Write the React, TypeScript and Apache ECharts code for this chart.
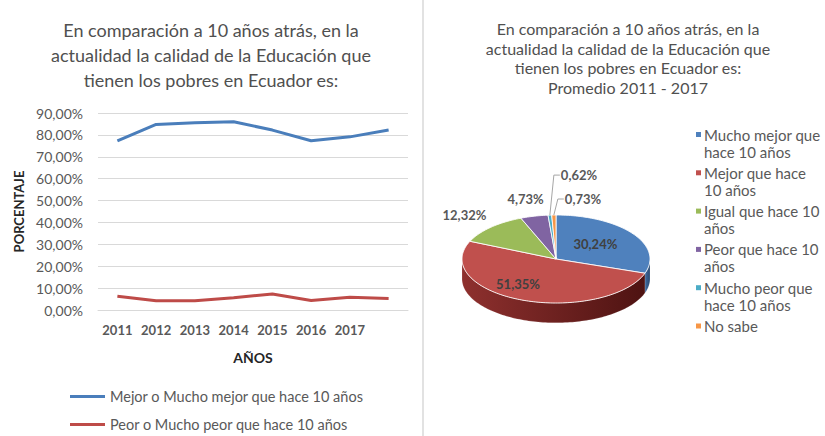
import React, { useEffect, useRef } from 'react';
import * as echarts from 'echarts';

const years = ['2011', '2012', '2013', '2014', '2015', '2016', '2017', ''];
const mejorValues = [77.3, 84.8, 85.5, 86.0, 82.2, 77.3, 79.1, 82.2];
const peorValues = [6.3, 4.2, 4.2, 5.6, 7.3, 4.3, 5.8, 5.3];
const lineNames = ['Mejor o Mucho mejor que hace 10 años', 'Peor o Mucho peor que hace 10 años'];
const lineColors = ['#4a7ebb', '#be4b48'];

const pieCategories = [
  'Mucho mejor que hace 10 años',
  'Mejor que hace 10 años',
  'Igual que hace 10 años',
  'Peor que hace 10 años',
  'Mucho peor que hace 10 años',
  'No sabe',
];
const pieLegendLabels = [
  'Mucho mejor que\nhace 10 años',
  'Mejor que hace\n10 años',
  'Igual que hace 10\naños',
  'Peor que hace 10\naños',
  'Mucho peor que\nhace 10 años',
  'No sabe',
];
const pieValues = [30.24, 51.35, 12.32, 4.73, 0.62, 0.73];
const pieColors = ['#4f81bd', '#c0504d', '#9bbb59', '#8064a2', '#4bacc6', '#f79646'];
const pieSideColors = [
  ['#3f6a9e', '#2a4a72'],
  ['#8e302e', '#4e1312'],
  ['#7a9444', '#56692e'],
  ['#644e82', '#46365c'],
  ['#3a8aa0', '#29636f'],
  ['#c97a35', '#8f5424'],
];

const leftTitle =
  'En comparación a 10 años atrás, en la\nactualidad la calidad de la Educación que\ntienen los pobres en Ecuador es:';
const rightTitle =
  'En comparación a 10 años atrás, en la\nactualidad la calidad de la Educación que\ntienen los pobres en Ecuador es:\nPromedio 2011 - 2017';

const FONT = 'Lato, "Open Sans", sans-serif';
const pct = (v: number) => v.toFixed(2).replace('.', ',') + '%';

export default function App() {
  const ref = useRef<HTMLDivElement>(null);

  useEffect(() => {
    document.body.style.margin = '0';
    if (!ref.current) return;
    const chart = echarts.init(ref.current, undefined, { renderer: 'svg' });

    const total = pieValues.reduce((a, b) => a + b, 0);
    const starts = pieValues.map((_, i) => pieValues.slice(0, i).reduce((a, b) => a + b, 0));
    const smallIdx = pieValues.map((v, i) => (v < 2 ? i : -1)).filter((i) => i >= 0);
    const DEPTH = 0.45;

    const renderSlice = (params: any, api: any) => {
      const i = params.dataIndex;
      const v = api.value(1) as number;
      const a0 = Math.PI / 2 - (starts[i] / total) * 2 * Math.PI;
      const a1 = Math.PI / 2 - ((starts[i] + v) / total) * 2 * Math.PI;
      const pt = (a: number, r = 1, dy = 0) => api.coord([r * Math.cos(a), r * Math.sin(a) - dy]);
      const arc = (from: number, to: number, dy: number) => {
        const n = Math.max(2, Math.ceil(Math.abs(from - to) / (Math.PI / 120)));
        const out: number[][] = [];
        for (let k = 0; k <= n; k++) out.push(pt(from + ((to - from) * k) / n, 1, dy));
        return out;
      };
      const children: any[] = [];
      const s0 = Math.min(a0, 0);
      const s1 = Math.max(a1, -Math.PI);
      if (s0 > s1) {
        const upper = arc(s0, s1, 0);
        const lower = arc(s1, s0, DEPTH);
        children.push({
          type: 'polygon',
          shape: { points: upper.concat(lower) },
          style: {
            fill: new echarts.graphic.LinearGradient(0, 0, 1, 0, [
              { offset: 0, color: pieSideColors[i][0] },
              { offset: 1, color: pieSideColors[i][1] },
            ]),
            stroke: 'rgba(255,255,255,0.3)',
            lineWidth: 0.5,
          },
        });
      }
      children.push({
        type: 'polygon',
        shape: { points: [api.coord([0, 0])].concat(arc(a0, a1, 0)) },
        style: { fill: pieColors[i], stroke: 'rgba(255,255,255,0.85)', lineWidth: 1 },
      });
      const m = (a0 + a1) / 2;
      const labelFont = { fontFamily: FONT, fontSize: 13, fontWeight: 'bold' };
      if (v >= 20) {
        const p = api.coord([0.7 * Math.cos(m) - 0.15, 0.6 * Math.sin(m)]);
        children.push({
          type: 'text',
          z2: 20,
          style: { text: pct(v), x: p[0], y: p[1], textAlign: 'center', textVerticalAlign: 'middle', fill: '#404040', ...labelFont },
        });
      } else if (v >= 2) {
        const p = pt(m, 1.4);
        children.push({
          type: 'text',
          z2: 20,
          style: { text: pct(v), x: p[0], y: p[1], textAlign: 'center', textVerticalAlign: 'middle', fill: '#595959', ...labelFont },
        });
      } else {
        const j = smallIdx.indexOf(i);
        const e = pt(m, 1);
        const ly = e[1] - 40 + 24 * j;
        const lx = e[0] + 11;
        children.push({
          type: 'polyline',
          z2: 20,
          shape: { points: [[e[0], e[1]], [e[0] + 4, ly], [lx - 1, ly]] },
          style: { stroke: '#a6a6a6', lineWidth: 1, fill: 'none' },
        });
        children.push({
          type: 'text',
          z2: 20,
          style: { text: pct(v), x: lx, y: ly, textAlign: 'left', textVerticalAlign: 'middle', fill: '#595959', ...labelFont },
        });
      }
      return { type: 'group', children };
    };

    const legendGraphics: any[] = [];
    pieLegendLabels.forEach((label, i) => {
      const y = 135 + 38.3 * i;
      legendGraphics.push({ type: 'rect', left: 696, top: y - 3, shape: { width: 5, height: 5 }, style: { fill: pieColors[i] } });
      legendGraphics.push({
        type: 'text',
        x: 704,
        y: y - 9,
        style: { text: label, fill: '#595959', font: `15px ${FONT}`, lineHeight: 17, textVerticalAlign: 'top' },
      });
    });

    const option: any = {
      animation: false,
      textStyle: { fontFamily: FONT },
      graphic: [
        { type: 'line', shape: { x1: 423, y1: 0, x2: 423, y2: 436 }, style: { stroke: '#d9d9d9', lineWidth: 1.5 } },
        {
          type: 'text',
          x: 211,
          y: 17,
          style: { text: leftTitle, fill: '#505050', font: `18px ${FONT}`, lineHeight: 25, textAlign: 'center', textVerticalAlign: 'top' },
        },
        {
          type: 'text',
          x: 628,
          y: 19,
          style: { text: rightTitle, fill: '#505050', font: `16px ${FONT}`, lineHeight: 19.5, textAlign: 'center', textVerticalAlign: 'top' },
        },
        ...legendGraphics,
      ],
      legend: [
        {
          data: lineNames,
          orient: 'vertical',
          left: 65,
          top: 384,
          height: 60,
          icon: 'rect',
          itemWidth: 35,
          itemHeight: 3,
          itemGap: 13,
          textStyle: { fontSize: 14.5, color: '#595959', fontFamily: FONT },
        },
      ],
      grid: [
        { left: 98, right: 417, top: 113, bottom: 126, outerBoundsMode: 'none' },
        { left: 462, width: 188, top: 215, height: 107.8, outerBoundsMode: 'none' },
      ],
      xAxis: [
        {
          type: 'category',
          gridIndex: 0,
          data: years,
          boundaryGap: true,
          axisLine: { lineStyle: { color: '#d9d9d9' } },
          axisTick: { show: false },
          axisLabel: { interval: 0, fontSize: 13, fontWeight: 'bold', color: '#595959', margin: 13 },
          name: 'AÑOS',
          nameLocation: 'middle',
          nameGap: 40,
          nameTextStyle: { fontSize: 14, fontWeight: 'bold', color: '#262626' },
        },
        { type: 'value', gridIndex: 1, min: -1, max: 1, show: false },
      ],
      yAxis: [
        {
          type: 'value',
          gridIndex: 0,
          min: 0,
          max: 90,
          interval: 10,
          axisLabel: { formatter: (v: number) => pct(v), fontSize: 14, color: '#595959', margin: 15 },
          splitLine: { lineStyle: { color: '#d9d9d9' } },
          name: 'PORCENTAJE',
          nameLocation: 'middle',
          nameGap: 73,
          nameTextStyle: { fontSize: 13, fontWeight: 'bold', color: '#262626' },
        },
        { type: 'value', gridIndex: 1, min: -1 - DEPTH, max: 1, show: false },
      ],
      series: [
        {
          name: lineNames[0],
          type: 'line',
          xAxisIndex: 0,
          yAxisIndex: 0,
          data: mejorValues,
          symbol: 'none',
          lineStyle: { color: lineColors[0], width: 3 },
          itemStyle: { color: lineColors[0] },
        },
        {
          name: lineNames[1],
          type: 'line',
          xAxisIndex: 0,
          yAxisIndex: 0,
          data: peorValues,
          symbol: 'none',
          lineStyle: { color: lineColors[1], width: 3 },
          itemStyle: { color: lineColors[1] },
        },
        {
          name: 'Promedio 2011 - 2017',
          type: 'custom',
          xAxisIndex: 1,
          yAxisIndex: 1,
          clip: false,
          renderItem: renderSlice,
          data: pieValues.map((v, i) => ({ name: pieCategories[i], value: [i, v] })),
        },
      ],
    };

    chart.setOption(option);
    return () => chart.dispose();
  }, []);

  return <div ref={ref} style={{ width: 825, height: 436 }} />;
}
